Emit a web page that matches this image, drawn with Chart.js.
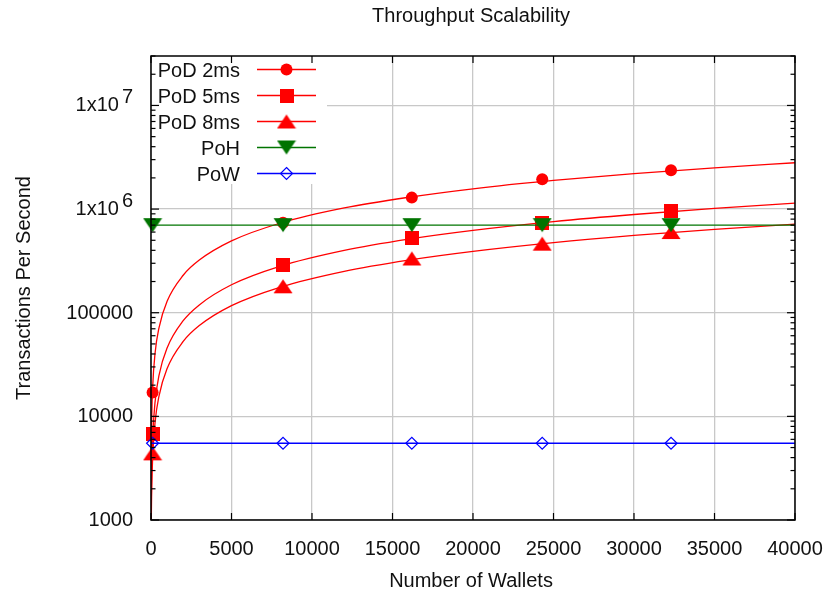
<!DOCTYPE html>
<html>
<head>
<meta charset="utf-8">
<title>Throughput Scalability</title>
<script src="https://cdn.jsdelivr.net/npm/chart.js@4.4.1/dist/chart.umd.min.js"></script>
<style>
  html, body { margin: 0; padding: 0; background: #fff; }
  canvas { display: block; }
</style>
</head>
<body>
<canvas id="tpsChart" width="824" height="594"></canvas>
<script>
// measured points (x = number of wallets)
const wallets = [100, 8200, 16200, 24300, 32300];
const pod2ms = [17000, 740000, 1290000, 1940000, 2370000];
const pod5ms = [6700, 286000, 530000, 734000, 958000];
const pod8ms = [4400, 180000, 334000, 464000, 601000];
const poh = [700000, 700000, 700000, 700000, 700000];
const pow = [5500, 5500, 5500, 5500, 5500];

// fitted curves
const fitX = [1, 5, 20, 50, 100, 250, 500, 1000, 2000, 3000, 5000, 8000, 12000, 16000, 20000, 25000, 30000, 35000, 40000];
const fit2ms = [400, 1540, 4900, 10500, 18800, 40400, 72000, 129000, 230000, 322000, 493000, 730000, 1025000, 1300000, 1570000, 1890000, 2200000, 2500000, 2800000];
const fit5ms = [110, 450, 1510, 3350, 6130, 13650, 25000, 45700, 83700, 119000, 186000, 280000, 399000, 513000, 623000, 757000, 887000, 1014000, 1140000];
const fit8ms = [71, 288, 960, 2130, 3900, 8650, 15800, 28900, 52800, 75100, 117000, 176000, 251000, 322000, 391000, 475000, 557000, 637000, 715000];

// flat reference lines across the whole x range
const flatX = [0, 40000];
const pohLine = [700000, 700000];
const powLine = [5500, 5500];

// axes
const xTickValues = [0, 5000, 10000, 15000, 20000, 25000, 30000, 35000, 40000];
const xTickLabels = ['0', '5000', '10000', '15000', '20000', '25000', '30000', '35000', '40000'];
const yTickValues = [1000, 10000, 100000, 1000000, 10000000];
const yTickLabels = ['1000', '10000', '100000', '1x10^6', '1x10^7'];
const yMin = 1000, yMax = 30000000;

const legendNames = ['PoD 2ms', 'PoD 5ms', 'PoD 8ms', 'PoH', 'PoW'];

const RED = '#ff0000';
const GREEN = '#007400';
const BLUE = '#0000ff';
const FONT = '20px "Liberation Sans", Arial, Helvetica, sans-serif';

// gnuplot-like marker images
function triangleMarker(color, down) {
    const c = document.createElement('canvas');
    c.width = 20; c.height = 16;
    const g = c.getContext('2d');
    g.fillStyle = color;
    g.beginPath();
    if (down) {
        g.moveTo(0.5, 1); g.lineTo(19.5, 1); g.lineTo(10, 15);
    } else {
        g.moveTo(10, 1); g.lineTo(19.5, 15); g.lineTo(0.5, 15);
    }
    g.closePath();
    g.fill();
    return c;
}

function squareMarker(color) {
    const c = document.createElement('canvas');
    c.width = 14; c.height = 14;
    const g = c.getContext('2d');
    g.fillStyle = color;
    g.fillRect(0, 0, 14, 14);
    return c;
}

const squareImg = squareMarker(RED);
const triUpImg = triangleMarker(RED, false);
const triDownImg = triangleMarker(GREEN, true);

function pts(xs, ys) {
    return xs.map((x, i) => ({ x: x, y: ys[i] }));
}

function curve(xs, ys, color, order) {
    return {
        data: pts(xs, ys),
        borderColor: color,
        borderWidth: 1.3,
        pointRadius: 0,
        cubicInterpolationMode: 'monotone',
        fill: false,
        order: order
    };
}

function markers(ys, style, color, radius, order) {
    return {
        data: pts(wallets, ys),
        showLine: false,
        pointStyle: style,
        pointRadius: radius,
        pointBackgroundColor: color,
        pointBorderColor: color,
        pointBorderWidth: 0,
        clip: false,
        order: order
    };
}

const powMarkers = markers(pow, 'rectRot', BLUE, 6, 0);
powMarkers.pointBackgroundColor = 'rgba(0,0,0,0)';
powMarkers.pointBorderWidth = 1.2;

const datasets = [
    powMarkers,
    curve(flatX, powLine, BLUE, 1),
    markers(poh, triDownImg, GREEN, 8, 2),
    curve(flatX, pohLine, GREEN, 3),
    markers(pod8ms, triUpImg, RED, 8, 4),
    curve(fitX, fit8ms, RED, 5),
    markers(pod5ms, squareImg, RED, 8, 6),
    curve(fitX, fit5ms, RED, 7),
    markers(pod2ms, 'circle', RED, 6, 8),
    curve(fitX, fit2ms, RED, 9)
];

// frame, inward ticks, tick labels, titles and key, drawn gnuplot style
const gnuplotFrame = {
    id: 'gnuplotFrame',
    afterDraw(chart) {
        const ctx = chart.ctx;
        const a = chart.chartArea;
        const xs = chart.scales.x;
        const ys = chart.scales.y;

        function seg(x1, y1, x2, y2) {
            ctx.beginPath();
            ctx.moveTo(x1, y1);
            ctx.lineTo(x2, y2);
            ctx.stroke();
        }

        ctx.save();

        // key box
        ctx.fillStyle = '#fff';
        ctx.fillRect(a.left + 1, a.top + 1, 175, 127);

        ctx.font = FONT;
        ctx.textAlign = 'right';
        ctx.textBaseline = 'alphabetic';
        const colors = [RED, RED, RED, GREEN, BLUE];
        legendNames.forEach((name, i) => {
            const cy = a.top + 13.5 + i * 26;
            ctx.fillStyle = '#111';
            ctx.fillText(name, a.left + 89, cy + 7);
            ctx.strokeStyle = colors[i];
            ctx.lineWidth = 1.3;
            seg(a.left + 106, cy, a.left + 165, cy);
            const mx = a.left + 135.5;
            ctx.fillStyle = colors[i];
            if (i === 0) {
                ctx.beginPath();
                ctx.arc(mx, cy, 6, 0, Math.PI * 2);
                ctx.fill();
            } else if (i === 1) {
                ctx.drawImage(squareImg, mx - 7, cy - 7);
            } else if (i === 2) {
                ctx.drawImage(triUpImg, mx - 10, cy - 8);
            } else if (i === 3) {
                ctx.drawImage(triDownImg, mx - 10, cy - 8);
            } else {
                ctx.lineWidth = 1.2;
                ctx.beginPath();
                ctx.moveTo(mx, cy - 6);
                ctx.lineTo(mx + 6, cy);
                ctx.lineTo(mx, cy + 6);
                ctx.lineTo(mx - 6, cy);
                ctx.closePath();
                ctx.stroke();
            }
        });

        // border
        ctx.strokeStyle = '#000';
        ctx.lineWidth = 1.5;
        ctx.strokeRect(a.left, a.top, a.right - a.left, a.bottom - a.top);

        // x ticks, bottom and top
        ctx.lineWidth = 1.2;
        xTickValues.forEach(v => {
            const px = xs.getPixelForValue(v);
            seg(px, a.bottom, px, a.bottom - 7);
            seg(px, a.top, px, a.top + 7);
        });

        // y ticks, major and minor, left and right
        for (let d = yMin; d <= yMax; d *= 10) {
            for (let m = 1; m <= 9; m++) {
                const v = d * m;
                if (v > yMax) break;
                const py = ys.getPixelForValue(v);
                const len = m === 1 ? 8 : 4.5;
                seg(a.left, py, a.left + len, py);
                seg(a.right, py, a.right - len, py);
            }
        }

        // tick labels
        ctx.fillStyle = '#111';
        ctx.font = FONT;
        ctx.textAlign = 'center';
        xTickValues.forEach((v, i) => {
            ctx.fillText(xTickLabels[i], xs.getPixelForValue(v), 555);
        });

        ctx.textAlign = 'right';
        yTickValues.forEach((v, i) => {
            const py = ys.getPixelForValue(v);
            const parts = yTickLabels[i].split('^');
            const right = 133;
            if (parts.length === 2) {
                ctx.fillText(parts[1], right, py + 6 - 8);
                const w = ctx.measureText(parts[1]).width;
                ctx.fillText(parts[0], right - w - 3, py + 6);
            } else {
                ctx.fillText(parts[0], right, py + 6);
            }
        });

        // titles
        ctx.textAlign = 'center';
        const midX = (a.left + a.right) / 2;
        ctx.fillText('Throughput Scalability', midX - 2, 22);
        ctx.fillText('Number of Wallets', midX - 2, 587);

        ctx.translate(30, (a.top + a.bottom) / 2);
        ctx.rotate(-Math.PI / 2);
        ctx.fillText('Transactions Per Second', 0, 0);

        ctx.restore();
    }
};

const ctx = document.getElementById('tpsChart').getContext('2d');
const tpsChart = new Chart(ctx, {
    type: 'line',
    data: { datasets: datasets },
    options: {
        responsive: false,
        animation: false,
        devicePixelRatio: 1,
        layout: { padding: { left: 151, right: 29, top: 56, bottom: 74 } },
        plugins: {
            legend: { display: false },
            tooltip: { enabled: false },
            title: { display: false }
        },
        scales: {
            x: {
                type: 'linear',
                min: 0,
                max: 40000,
                ticks: { display: false, stepSize: 5000 },
                grid: { color: '#c8c8c8', lineWidth: 1.3, drawTicks: false },
                border: { display: false }
            },
            y: {
                type: 'logarithmic',
                min: yMin,
                max: yMax,
                afterBuildTicks: scale => {
                    scale.ticks = yTickValues.map(v => ({ value: v }));
                },
                ticks: { display: false },
                grid: { color: '#c8c8c8', lineWidth: 1.3, drawTicks: false },
                border: { display: false }
            }
        }
    },
    plugins: [gnuplotFrame]
});
</script>
</body>
</html>
